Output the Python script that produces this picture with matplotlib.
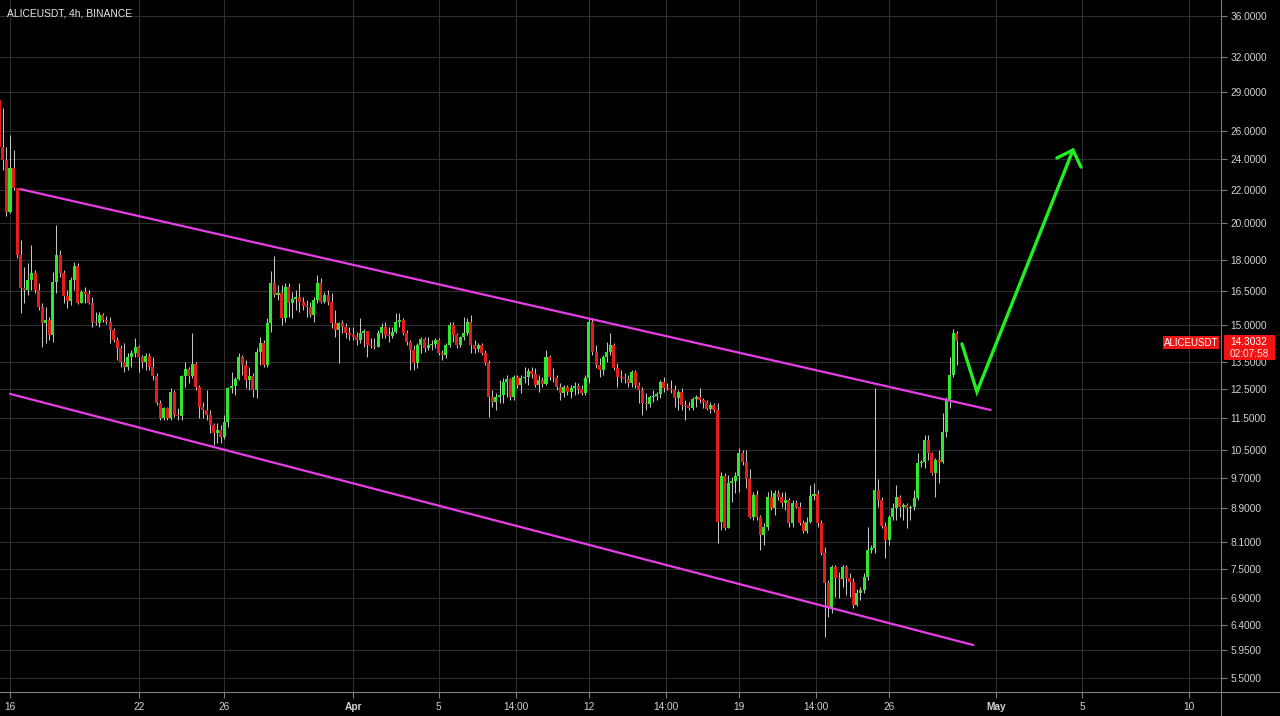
import matplotlib
matplotlib.use("Agg")
import matplotlib.pyplot as plt
import matplotlib.dates as mdates
from matplotlib.ticker import FixedLocator, FixedFormatter, NullLocator
from matplotlib.lines import Line2D
from matplotlib.patches import Rectangle
import pandas as pd
import numpy as np

# ---------------- data: ALICEUSDT 4h candles ----------------
first_open = 28.36
last_bar_time = "2021-04-29 04:00"

close = [
    24.82, 23.92, 20.64, 23.38, 22.10, 18.27, 16.64,
    16.54, 17.02, 17.36, 16.54, 15.77, 15.06, 15.19, 14.56, 16.92, 18.27,
    17.36, 16.27, 16.03, 17.02, 17.71, 15.94, 16.45, 16.36, 15.94,
    15.11, 15.06, 15.41, 15.19, 15.11, 14.77, 14.36, 14.03, 13.48, 13.29,
    13.67, 13.83, 14.07, 13.67, 13.48, 13.71, 13.29, 12.96, 12.01, 11.51,
    11.84, 11.51, 12.39, 11.60, 11.57, 12.96, 13.22, 12.96, 13.41, 12.57,
    11.87, 11.77, 11.60, 11.28, 11.03, 11.12, 10.90, 11.38, 12.53, 12.60,
    12.86, 13.67, 13.37,
    12.82, 12.96, 12.46, 13.87, 14.24, 13.37, 15.06, 16.88, 16.31, 16.40,
    15.28, 16.68, 15.94, 16.13, 16.22, 15.99, 15.81, 15.77, 15.41, 16.08,
    16.88, 15.99, 16.31, 15.99, 15.06, 14.77, 15.06, 14.90, 14.65, 14.56,
    14.48, 14.36, 14.65, 14.73, 14.15, 14.11, 14.07, 14.65, 14.90, 14.56,
    14.52, 14.69, 15.11, 15.19, 14.65, 14.28, 13.95, 13.44, 14.15, 14.40,
    14.03, 14.15, 14.19, 14.36, 13.83, 13.75, 14.15, 14.98, 14.56, 14.15,
    14.48, 14.65, 15.11, 14.15, 13.99, 14.15, 13.83, 13.44, 12.22, 12.04,
    12.22, 12.29, 12.75, 12.86, 12.22, 12.93, 12.64, 12.89, 12.93, 13.14,
    13.03, 12.64, 12.82, 12.68, 13.67, 12.93, 12.89, 12.57, 12.36, 12.57,
    12.39, 12.53, 12.60, 12.50, 12.36, 12.89, 15.11, 13.87, 13.37, 13.18,
    13.67, 13.87, 14.15, 13.25, 12.93, 12.89, 12.86, 12.71, 13.11, 12.64,
    12.46, 12.01, 11.97, 12.22, 12.25, 12.32, 12.75, 12.53, 12.50, 12.46,
    12.18, 12.39, 11.94, 11.90, 11.84, 12.15, 12.22, 12.11, 12.04, 11.80,
    11.94, 11.77, 8.56, 9.76, 8.42, 9.57, 9.62, 9.76, 10.42, 10.15,
    9.68, 8.68, 9.25, 8.68, 8.25, 8.44, 9.20, 8.91, 9.30, 9.20,
    9.04, 9.12, 8.54, 9.04, 8.94, 8.54, 8.35, 8.56, 9.22, 9.28,
    8.54, 7.84, 7.21, 6.73, 7.54, 7.31, 7.29, 7.54, 7.31, 7.23,
    6.77, 7.00, 7.06, 7.33, 7.91, 7.96, 9.38, 9.12, 8.47, 8.14,
    8.68, 8.91, 9.20, 8.94, 8.99, 8.91, 8.94, 9.17, 10.12, 10.15,
    10.81, 10.42, 9.84, 10.21, 10.15, 11.06, 12.11, 13.00, 14.65, 14.3032,
]

high = [
    28.52, 27.73, 24.82, 25.68, 24.61, 22.10, 19.07,
    17.66, 17.86, 18.80, 17.51, 16.88, 15.94, 15.77, 15.32, 17.41, 19.89,
    18.53, 17.51, 16.54, 17.16, 17.91, 17.86, 16.54, 16.68, 16.54,
    16.22, 15.54, 15.54, 15.50, 15.37, 15.32, 14.85, 14.48, 14.15, 14.24,
    13.83, 13.95, 14.44, 14.15, 13.75, 13.83, 13.83, 13.67, 13.07, 12.11,
    11.87, 11.87, 12.53, 12.46, 11.84, 13.00, 13.48, 13.29, 14.65, 13.48,
    12.64, 12.04, 12.46, 11.77, 11.35, 11.35, 11.28, 11.60, 12.57, 13.11,
    12.93, 13.83, 13.75,
    13.56, 13.29, 13.07, 14.03, 14.48, 14.36, 15.28, 17.46, 18.22, 16.78,
    16.78, 16.88, 16.88, 16.45, 16.54, 16.88, 16.22, 16.08, 15.99, 16.22,
    17.26, 17.12, 16.45, 16.54, 16.40, 15.63, 15.11, 15.19, 15.06, 14.90,
    14.90, 14.69, 15.28, 14.81, 14.69, 14.44, 14.44, 14.77, 15.06, 15.11,
    14.90, 14.90, 15.50, 15.50, 15.28, 14.77, 14.36, 14.15, 14.24, 14.48,
    14.48, 14.48, 14.36, 14.44, 14.44, 13.95, 14.24, 15.11, 15.11, 14.65,
    14.52, 15.32, 15.28, 15.41, 14.36, 14.24, 14.24, 13.95, 13.56, 12.46,
    12.36, 12.82, 12.89, 13.00, 12.89, 13.00, 13.00, 13.00, 13.29, 13.25,
    13.29, 13.25, 13.00, 12.93, 13.95, 13.75, 13.25, 13.00, 12.71, 12.64,
    12.64, 12.64, 12.75, 12.71, 12.64, 13.00, 15.28, 15.28, 14.15, 13.63,
    13.75, 14.28, 14.65, 14.24, 13.44, 13.18, 13.07, 13.00, 13.18, 13.18,
    12.75, 12.57, 12.36, 12.29, 12.46, 12.39, 12.82, 12.93, 12.71, 12.82,
    12.64, 12.46, 12.53, 12.11, 12.04, 12.22, 12.29, 12.53, 12.18, 12.11,
    12.04, 12.01, 12.01, 9.87, 9.84, 9.79, 9.73, 9.87, 10.57, 10.51,
    10.51, 9.96, 9.33, 9.38, 8.73, 8.54, 9.33, 9.38, 9.38, 9.38,
    9.33, 9.33, 9.17, 9.12, 9.12, 9.07, 8.61, 8.68, 9.51, 9.57,
    9.38, 8.61, 7.98, 7.27, 7.58, 7.58, 7.43, 7.58, 7.58, 7.41,
    7.31, 7.08, 7.12, 7.41, 8.44, 8.02, 12.53, 9.68, 9.20, 8.56,
    8.73, 9.04, 9.51, 9.25, 9.04, 9.04, 8.99, 9.38, 10.42, 10.21,
    10.96, 10.96, 10.45, 10.27, 10.51, 11.67, 12.22, 13.67, 14.81, 14.73,
]

low = [
    24.61, 23.25, 20.41, 20.58, 21.97, 18.11, 15.50,
    15.94, 16.31, 16.54, 16.40, 15.63, 14.07, 14.24, 14.36, 14.28, 16.40,
    17.16, 15.94, 15.72, 15.85, 16.54, 15.90, 15.94, 15.94, 15.90,
    14.90, 14.98, 14.90, 15.11, 15.02, 14.24, 14.28, 13.56, 13.29, 13.11,
    13.18, 13.29, 13.67, 13.11, 13.25, 13.18, 13.18, 12.82, 11.94, 11.44,
    11.44, 11.44, 11.44, 11.54, 11.44, 11.44, 12.57, 12.71, 12.89, 12.46,
    11.51, 11.51, 11.44, 11.03, 10.66, 10.72, 10.72, 10.84, 11.22, 12.36,
    12.29, 12.82, 13.00,
    12.53, 12.46, 12.22, 12.18, 13.37, 13.29, 13.29, 14.69, 16.22, 16.08,
    14.98, 15.11, 15.32, 15.28, 15.63, 15.54, 15.63, 15.32, 15.32, 15.11,
    15.94, 15.94, 15.94, 15.85, 14.85, 14.48, 13.44, 14.65, 14.44, 14.36,
    14.36, 14.15, 14.24, 14.07, 13.67, 14.03, 13.99, 14.07, 14.44, 14.44,
    14.28, 14.44, 14.65, 14.90, 14.56, 14.15, 13.18, 13.18, 13.25, 13.83,
    13.87, 13.95, 13.95, 14.03, 13.75, 13.56, 13.63, 14.07, 14.28, 14.03,
    14.07, 14.36, 14.56, 13.83, 13.83, 13.87, 13.75, 13.37, 11.54, 11.87,
    11.77, 12.01, 12.01, 12.22, 12.11, 12.11, 12.53, 12.36, 12.71, 12.64,
    12.89, 12.57, 12.39, 12.57, 12.64, 12.82, 12.75, 12.46, 12.11, 12.22,
    12.29, 12.18, 12.29, 12.32, 12.29, 12.29, 12.71, 13.75, 13.25, 12.93,
    13.00, 13.48, 13.75, 13.18, 12.57, 12.75, 12.71, 12.57, 12.57, 12.53,
    12.01, 11.60, 11.77, 11.87, 12.04, 12.11, 12.18, 12.39, 12.46, 12.36,
    11.87, 11.77, 11.77, 11.44, 11.77, 11.77, 11.87, 12.01, 11.84, 11.77,
    11.67, 11.70, 8.07, 8.37, 8.37, 8.49, 9.07, 9.30, 9.33, 10.07,
    9.43, 8.66, 8.61, 8.61, 7.91, 8.02, 8.37, 8.86, 8.73, 9.12,
    8.94, 8.86, 8.44, 8.44, 8.91, 8.49, 8.30, 8.30, 8.54, 9.12,
    8.44, 7.80, 6.18, 6.54, 6.61, 6.92, 6.90, 7.12, 6.96, 6.92,
    6.71, 6.75, 6.86, 7.00, 7.27, 7.84, 7.84, 8.94, 8.42, 7.73,
    8.02, 8.61, 8.61, 8.68, 8.61, 8.42, 8.61, 8.86, 9.12, 10.01,
    9.99, 10.21, 9.79, 9.20, 9.57, 10.12, 10.90, 11.84, 12.93, 13.37,
]

# Descending channel drawn on the chart (time, price)
upper_channel_t = ["2021-03-16 11:10", "2021-04-30 17:45"]
upper_channel_p = [22.03, 11.77]
lower_channel_t = ["2021-03-16 00:00", "2021-04-29 22:20"]
lower_channel_p = [12.32, 6.04]

# Projected path (pullback, then breakout) with arrow head
path_t = ["2021-04-29 09:35", "2021-04-30 02:25", "2021-05-04 13:55"]
path_p = [14.20, 12.39, 24.61]
head_t = ["2021-05-03 19:55", "2021-05-04 13:55", "2021-05-04 22:50"]
head_p = [24.06, 24.61, 23.45]

price_ticks = [36, 32, 29, 26, 24, 22, 20, 18, 16.5, 15, 13.5, 12.5, 11.5,
               10.5, 9.7, 8.9, 8.1, 7.5, 6.9, 6.4, 5.95, 5.5]
time_ticks = ["2021-03-16 00:00", "2021-03-22 00:00", "2021-03-26 00:00",
              "2021-04-01 00:00", "2021-04-05 00:00", "2021-04-08 14:00",
              "2021-04-12 00:00", "2021-04-15 14:00", "2021-04-19 00:00",
              "2021-04-22 14:00", "2021-04-26 00:00", "2021-05-01 00:00",
              "2021-05-05 00:00", "2021-05-10 00:00"]
time_labels = ["16", "22", "26", "Apr", "5", "14:00", "12", "14:00", "19",
               "14:00", "26", "May", "5", "10"]

symbol = "ALICEUSDT"
last_price = "14.3032"
countdown = "02:07:58"

# ---------------- figure ----------------
W, H = 1280, 716
BG = "#000000"
GRID = "#2e2e2e"
AXIS = "#7c7c7c"
TXT = "#d2d2d2"
UP = "#2ee82e"
DOWN = "#e61c1c"
WICK = "#c4c4c4"
FONT = "Liberation Sans"

fig = plt.figure(figsize=(W / 100, H / 100), dpi=100, facecolor=BG)
ax = fig.add_axes([0, (H - 692) / H, 1221 / W, 692 / H], facecolor=BG)


def tnum(ts):
    stamps = pd.to_datetime(pd.Series(ts), format="%Y-%m-%d %H:%M")
    return mdates.date2num(stamps.dt.to_pydatetime())


times = pd.date_range(end=last_bar_time, periods=len(close), freq="4h")
x = mdates.date2num(times.to_pydatetime())
o = np.array([first_open] + close[:-1])
c = np.array(close)
hi = np.maximum.reduce([np.array(high), o, c])
lo = np.minimum.reduce([np.array(low), o, c])
up = c >= o
colors = np.where(up, UP, DOWN)

ax.vlines(x, lo, hi, color=WICK, linewidth=0.75, zorder=2)
body_lo = np.minimum(o, c)
body_h = np.maximum(np.abs(c - o), body_lo * 0.003)
ax.bar(x, body_h, bottom=body_lo, width=0.14, color=colors,
       linewidth=0, zorder=3)

ax.plot(tnum(upper_channel_t), upper_channel_p, color="#e83de8", lw=1.6,
        zorder=4, solid_capstyle="round")
ax.plot(tnum(lower_channel_t), lower_channel_p, color="#e83de8", lw=1.6,
        zorder=4, solid_capstyle="round")
ax.plot(tnum(path_t), path_p, color="#22ee22", lw=2.4, zorder=5,
        solid_capstyle="round", solid_joinstyle="miter")
ax.plot(tnum(head_t), head_p, color="#22ee22", lw=2.4, zorder=5,
        solid_capstyle="round", solid_joinstyle="miter")

# axes ranges
day0 = tnum(["2021-03-16 00:00"])[0]
ax.set_xlim(day0 - 10 / 21.44, day0 + 1211 / 21.44)
ax.set_yscale("log")
ax.set_ylim(5.287, 37.67)

ax.yaxis.set_major_locator(FixedLocator(price_ticks))
ax.yaxis.set_major_formatter(FixedFormatter([f"{v:.4f}" for v in price_ticks]))
ax.yaxis.set_minor_locator(NullLocator())
ax.xaxis.set_major_locator(FixedLocator(tnum(time_ticks)))
ax.xaxis.set_major_formatter(FixedFormatter(time_labels))
ax.xaxis.set_minor_locator(NullLocator())

ax.yaxis.tick_right()
ax.tick_params(axis="y", which="major", length=4, width=0.8, color=AXIS,
               labelcolor=TXT, labelsize=7.3, pad=3)
ax.tick_params(axis="x", which="major", length=4, width=0.8, color=AXIS,
               labelcolor=TXT, labelsize=7.3, pad=3)
for lab in ax.get_yticklabels() + ax.get_xticklabels():
    lab.set_fontfamily(FONT)
for lab in ax.get_xticklabels():
    if lab.get_text() in ("Apr", "May"):
        lab.set_fontweight("bold")

ax.grid(True, color=GRID, linewidth=0.8, zorder=0)
ax.set_axisbelow(True)
for s in ax.spines.values():
    s.set_visible(False)

# pane separators
fig.add_artist(Line2D([1221 / W, 1221 / W], [0, 1], color=AXIS, lw=0.8))
fig.add_artist(Line2D([0, 1], [(H - 692) / H, (H - 692) / H], color=AXIS, lw=0.8))

# title
fig.text(7 / W, 1 - 14 / H, "ALICEUSDT, 4h, BINANCE", color="#e6e6e6",
         fontsize=7.4, family=FONT, va="center", ha="left")


# last price marker
def fy(py):
    return 1 - py / H


fig.add_artist(Rectangle((1163 / W, fy(349)), 56 / W, 13 / H,
                         transform=fig.transFigure, color="#f01414", lw=0))
fig.add_artist(Rectangle((1224 / W, fy(360)), 51 / W, 25 / H,
                         transform=fig.transFigure, color="#f01414", lw=0))
fig.text(1191 / W, fy(342.5), symbol, color="white", fontsize=7.0,
         family=FONT, ha="center", va="center")
fig.text(1230 / W, fy(342), last_price, color="white", fontsize=7.3,
         family=FONT, ha="left", va="center")
fig.text(1230 / W, fy(354), countdown, color="#ffdede", fontsize=7.3,
         family=FONT, ha="left", va="center")

fig.savefig("out.png", dpi=100, facecolor=BG)
